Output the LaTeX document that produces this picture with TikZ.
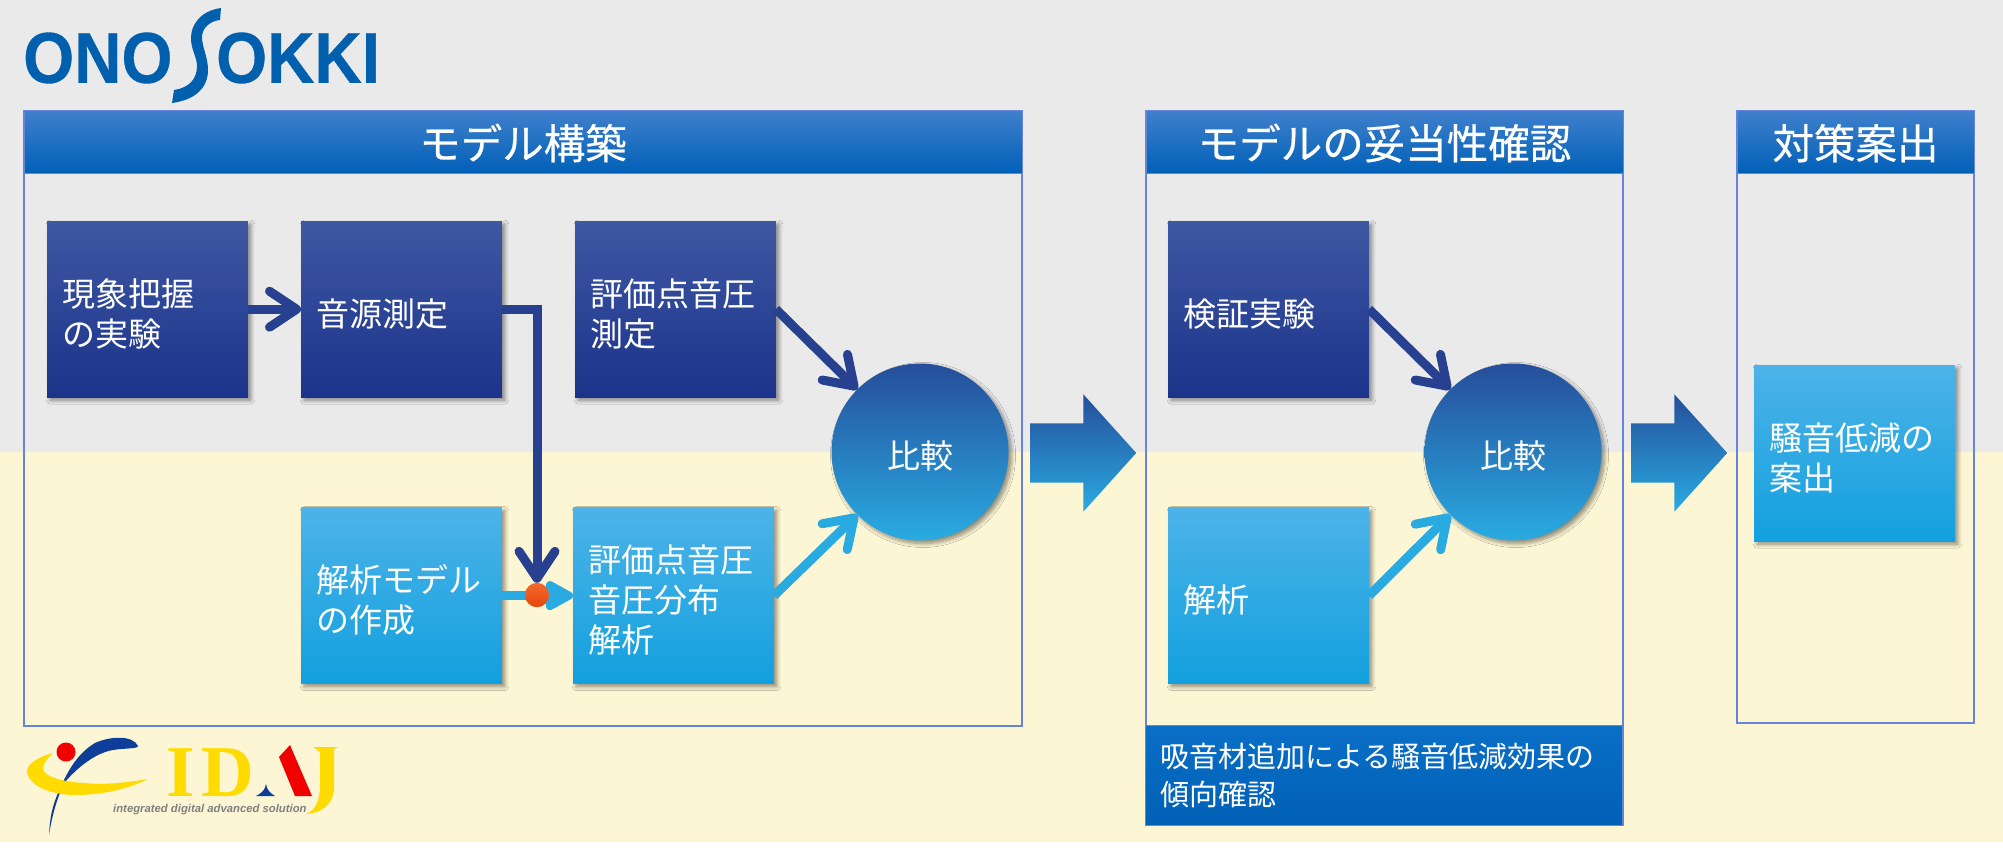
\documentclass[tikz,border=0pt]{standalone}
\usepackage{fontspec}
\setmainfont{Noto Sans CJK JP}
\newfontfamily\logosans[BoldFeatures={FakeBold=0.5}]{Liberation Sans}
\newfontfamily\tagsans{Liberation Sans}
\newfontfamily\logoserif{Liberation Serif}
\newfontfamily\hdrfont[FakeBold=0.45]{Noto Sans CJK JP}
\usepackage{xcolor}
\usetikzlibrary{arrows.meta,positioning,calc,shadows.blur,shapes.arrows}
\definecolor{bggray}{HTML}{EAEAEA}
\definecolor{bgcream}{HTML}{FDF6D5}
\definecolor{framebl}{HTML}{6784D8}
\definecolor{darkbl}{HTML}{27408F}
\definecolor{lightbl}{HTML}{29ABE2}
\definecolor{onobl}{HTML}{0060AE}
\definecolor{idajy}{HTML}{FFDB00}
\definecolor{idajb}{HTML}{0D3F9A}
\definecolor{idajr}{HTML}{F00000}
\definecolor{hdrtop}{HTML}{4080CC}
\definecolor{hdrmid}{HTML}{0070C8}
\definecolor{hdrbot}{HTML}{0060B8}
\definecolor{notetop}{HTML}{0A6FC8}
\definecolor{notemid}{HTML}{0068C0}
\definecolor{notebot}{HTML}{0060B4}
\definecolor{dtop}{HTML}{3F58A3}
\definecolor{dmid}{HTML}{1F3E96}
\definecolor{dbot}{HTML}{1B338A}
\definecolor{ltop}{HTML}{4DB3E8}
\definecolor{lmid}{HTML}{29ABE8}
\definecolor{lbot}{HTML}{12A0DE}
\definecolor{ctop}{HTML}{264E9A}
\definecolor{cmid}{HTML}{2680C2}
\definecolor{cbot}{HTML}{29ABE2}
\definecolor{jtop}{HTML}{F26A2E}
\definecolor{jbot}{HTML}{E8450A}

\begin{document}
\begin{tikzpicture}[x=1pt, y=-1pt, >=Stealth, node distance=53pt,
  softshadow/.style={blur shadow={shadow xshift=3pt, shadow yshift=-3pt,
    shadow blur steps=8, shadow blur radius=4pt, shadow opacity=45}},
  frm/.style={draw=framebl, line width=2pt, inner sep=0pt, anchor=north west},
  hdr/.style={draw=framebl, line width=1pt, inner sep=0pt, anchor=north,
    minimum height=63pt, text=white, text height=39pt, text depth=5pt,
    top color=hdrtop, middle color=hdrmid, bottom color=hdrbot,
    font=\fontsize{41.5}{46}\hdrfont},
  notebox/.style={draw=framebl, line width=1pt, anchor=north west, inner sep=0pt,
    minimum height=100pt, inner xsep=15pt, text width=447pt, align=left,
    text=white, top color=notetop, middle color=notemid, bottom color=notebot,
    font=\fontsize{29}{38}\selectfont},
  dbox/.style={softshadow, text=white, inner xsep=15pt, inner ysep=0pt,
    text width=170.6pt, minimum height=176pt, align=left,
    top color=dtop, middle color=dmid, bottom color=dbot,
    execute at begin node={\rule{0pt}{37pt}},
    font=\fontsize{33}{40}\selectfont},
  lbox/.style={dbox, top color=ltop, middle color=lmid, bottom color=lbot},
  cmp/.style={circle, softshadow, minimum size=177pt, inner sep=0pt, text=white,
    text height=36pt, text depth=4pt,
    top color=ctop, middle color=cmid, bottom color=cbot,
    font=\fontsize{33}{40}\selectfont},
  bigarr/.style={single arrow, single arrow head extend=29pt,
    single arrow head indent=0pt, single arrow tip angle=96,
    text height=59pt, text depth=0pt, text width=0pt, inner sep=0pt,
    anchor=tail, top color=ctop, middle color=cmid, bottom color=cbot},
  jointdot/.style={circle, inner sep=0pt, minimum size=24pt,
    top color=jtop, bottom color=jbot},
  arr/.style={-{Straight Barb[round, length=27pt, width=36pt]},
    line width=9pt, line join=miter,
    preaction={draw=black, opacity=.25,
      transform canvas={shift={(3pt,-3pt)}}}},
  arrd/.style={arr, draw=darkbl},
  arrl/.style={arr, draw=lightbl},
  arrs/.style={-{Triangle[round, length=32pt, width=32pt]}, line width=9pt,
    draw=lightbl}]

% backdrop
\useasboundingbox (0,0) rectangle (2003,849);
\fill[bggray] (0,0) rectangle (2003,452);
\fill[bgcream] (0,452) rectangle (2003,842);

% logo, top
\node[anchor=west, inner sep=0pt, text=onobl] (ono) at (23,58)
  {\fontsize{72}{72}\logosans\bfseries\scalebox{.91}[1]{ONO}};
\node[anchor=west, inner sep=0pt, text=onobl] (okki) at (216,58)
  {\fontsize{72}{72}\logosans\bfseries\scalebox{.91}[1]{OKKI}};
\fill[onobl] (221,8) .. controls (200,11) and (191,25) .. (191,38)
  .. controls (191,50) and (197,57) .. (197,66)
  .. controls (197,80) and (188,88) .. (174,90) -- (172,103)
  .. controls (195,100) and (208,88) .. (208,70)
  .. controls (208,57) and (202,47) .. (202,37)
  .. controls (202,28) and (210,21) .. (220,20) -- cycle;

% logo, bottom
\fill[idajb] (49,835) .. controls (50,815) and (53,805) .. (58,793)
  .. controls (66,775) and (75,755) .. (95,743)
  .. controls (110,736) and (133,735) .. (138,746)
  .. controls (138,749) and (125,748) .. (113,750)
  .. controls (95,753) and (77,768) .. (65,782)
  .. controls (58,795) and (52,815) .. (49,835) -- cycle;
\fill[idajy] (53,753) .. controls (35,758) and (27,765) .. (27,772)
  .. controls (30,788) and (55,795) .. (75,795)
  .. controls (105,795) and (130,788) .. (148,779)
  .. controls (125,783) and (100,785) .. (85,783)
  .. controls (62,782) and (42,776) .. (43,768)
  .. controls (44,762) and (48,758) .. (53,753) -- cycle;
\fill[idajr] (66,752) circle (9.5);
\node[anchor=base west, inner sep=0pt, text=idajy] (idaji) at (166,796)
  {\fontsize{73}{73}\logoserif\bfseries I};
\node[anchor=base west, inner sep=0pt, text=idajy] (idajd) at (201,796)
  {\fontsize{73}{73}\logoserif\bfseries D};
\fill[idajr] (290,745) -- (279,757) -- (295,796) -- (312,796) -- cycle;
\fill[idajb] (256,796) .. controls (262,793) and (265,790) .. (266,784)
  .. controls (267,790) and (270,793) .. (275,796) -- cycle;
\fill[idajy] (313,747) -- (338,747) -- (334,749) -- (334,790)
  .. controls (332,805) and (322,813) .. (306,814)
  .. controls (316,810) and (320,800) .. (320,785) -- (320,752) -- cycle;
\node[anchor=west, inner sep=0pt, text=black!50] (idajtag) at (113,810)
  {\fontsize{11.3}{12}\tagsans\bfseries\itshape integrated digital advanced solution};

% frames
\node[frm, minimum width=998pt, minimum height=615pt] (frmA) at (23,110) {};
\node[frm, minimum width=477pt, minimum height=714pt] (frmB) at (1145,110) {};
\node[frm, minimum width=237pt, minimum height=612pt] (frmC) at (1736,110) {};
\node[hdr, minimum width=998pt] (hdrA) at (frmA.north) {モデル構築};
\node[hdr, minimum width=477pt] (hdrB) at (frmB.north) {モデルの妥当性確認};
\node[hdr, minimum width=237pt] (hdrC) at (frmC.north) {対策案出};
\node[notebox] (noteB) at (1145,725) {吸音材追加による騒音低減効果の\\傾向確認};

% first stage
\node[dbox, anchor=north west] (expt) at (47,221) {現象把握\\の実験};
\node[dbox, right=of expt] (srcm) {音源測定};
\node[dbox, right=73pt of srcm] (evalm) {評価点音圧\\測定};
\node[lbox, below=110pt of srcm] (amodel) {解析モデル\\の作成};
\node[lbox, right=71pt of amodel] (evala) {評価点音圧\\音圧分布\\解析};
\node[cmp] (cmpA) at (920,452) {比較};
\node[jointdot] (joint) at (537,595) {};
\draw[arrd] (expt) -- (srcm);
\draw[arrs] (amodel) -- (evala);
\draw[arrd] (srcm.east) -| (joint.north);
\draw[arrd] (evalm.east) -- (cmpA.135);
\draw[arrl] (evala.east) -- (cmpA.225);
\node[jointdot] (jointtop) at (joint) {};

% second stage
\node[bigarr, minimum height=106pt] (stepA) at (1030,453) {};
\node[dbox, anchor=north west] (verif) at (1168,221) {検証実験};
\node[lbox, below=110pt of verif] (anal) {解析};
\node[cmp] (cmpB) at (1513,452) {比較};
\draw[arrd] (verif.east) -- (cmpB.135);
\draw[arrl] (anal.east) -- (cmpB.225);

% third stage
\node[bigarr, minimum height=96pt] (stepB) at (1631,453) {};
\node[lbox, anchor=north west] (plan) at (1754,365) {騒音低減の\\案出};
\end{tikzpicture}
\end{document}
